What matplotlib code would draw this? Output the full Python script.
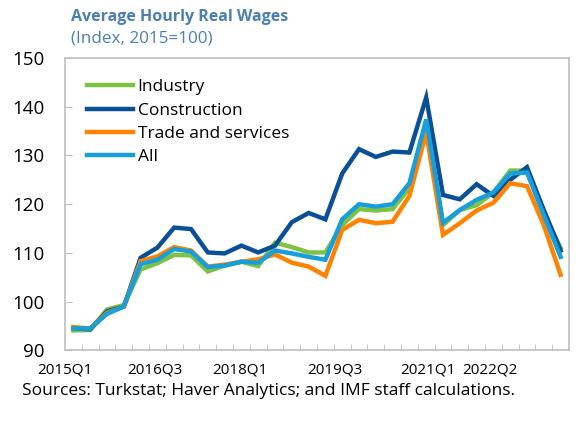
import numpy as np
import matplotlib
matplotlib.use("Agg")
import matplotlib.pyplot as plt

plt.rcParams['font.family'] = ['Open Sans', 'DejaVu Sans']

# quarterly index, 2015Q1 .. 2022Q2
industry = [94.1, 94.2, 98.4, 99.3, 106.6, 107.9, 109.6, 109.5, 106.2, 107.4,
            108.2, 107.3, 112.1, 111.2, 110.1, 110.1, 115.7, 119.0, 118.7, 119.0,
            123.3, 136.8, 115.7, 118.8, 119.8, 122.4, 126.9, 126.9, 118.3, 111.0]
construction = [94.6, 94.3, 98.0, 99.0, 109.0, 111.1, 115.2, 114.9, 110.1, 109.9,
                111.5, 110.1, 111.5, 116.3, 118.2, 116.9, 126.3, 131.3, 129.7, 130.8,
                130.6, 141.9, 121.9, 121.0, 124.1, 121.7, 125.0, 127.6, 118.8, 110.5]
trade = [94.8, 94.5, 97.7, 99.0, 108.3, 109.3, 111.2, 110.5, 107.2, 107.6,
         108.2, 108.7, 109.7, 108.0, 107.2, 105.3, 114.7, 116.8, 116.1, 116.4,
         121.7, 134.7, 113.7, 116.1, 118.7, 120.3, 124.3, 123.7, 115.7, 105.5]
all_sectors = [94.5, 94.5, 97.5, 99.0, 107.7, 108.6, 110.8, 110.3, 107.1, 107.4,
               108.2, 108.0, 110.5, 109.9, 109.2, 108.6, 116.9, 120.0, 119.5, 120.0,
               124.3, 137.4, 116.2, 118.8, 120.9, 122.4, 126.3, 126.5, 117.8, 109.2]

tick_labels = ['2015Q1', '2016Q3', '2018Q1', '2019Q3', '2021Q1', '2022Q2']
tick_pos = [-0.5, 4.87, 9.93, 15.54, 21.1, 24.8]  # where the labels sit in the original

series = [('Industry', industry, '#7dc242'),
          ('Construction', construction, '#0b4f96'),
          ('Trade and services', trade, '#ff8300'),
          ('All', all_sectors, '#189fdb')]

fig = plt.figure(figsize=(5.87, 4.21), dpi=100)
ax = fig.add_axes([65/587, 1-350.4/421, 504/587, (350.4-58)/421])

x = np.arange(len(industry))
for name, vals, col in series:
    ax.plot(x, vals, color=col, lw=3.2, label=name, solid_joinstyle='miter')

ax.set_xlim(-0.5, 29.5)
ax.set_ylim(90, 150)
ax.set_yticks(np.arange(90, 151, 10))
ax.set_xticks(tick_pos)
ax.set_xticklabels(tick_labels)
ax.set_xticks(np.arange(0.5, 29, 1), minor=True)
ax.tick_params(axis='x', which='major', length=0, pad=9, labelsize=11)
ax.tick_params(axis='x', which='minor', direction='in', length=4, color='#bfbfbf')
ax.tick_params(axis='y', direction='in', length=5, color='#bfbfbf', labelsize=13.5, pad=15)
for sp in ax.spines.values():
    sp.set_color('#bfbfbf')
    sp.set_linewidth(1.2)

ax.legend(loc='upper left', bbox_to_anchor=(21.5/504, 1 - 21/292.4), frameon=False,
          fontsize=12.5, handlelength=2.7, handletextpad=0.25, labelspacing=0.42,
          borderaxespad=0, borderpad=0)

fig.text(71/587, 1-20.7/421, 'Average Hourly Real Wages', fontsize=11.5,
         fontweight='bold', color='#4a7eb5', va='baseline')
fig.text(71/587, 1-42.7/421, '(Index, 2015=100)', fontsize=12.3,
         color='#4a7eb5', va='baseline')
fig.text(22/587, 1-395/421, 'Sources: Turkstat; Haver Analytics; and IMF staff calculations.',
         fontsize=12.5, va='baseline')

fig.savefig('out.png', dpi=100)
